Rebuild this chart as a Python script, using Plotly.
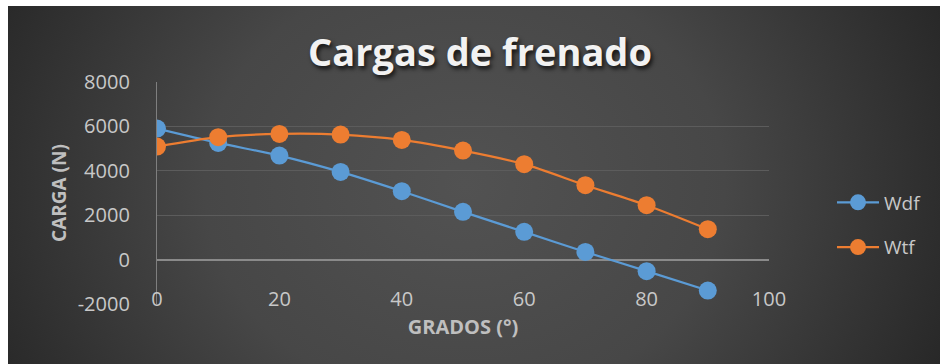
import base64
import plotly.graph_objects as go

# Braking loads vs. angle
grados = [0, 10, 20, 30, 40, 50, 60, 70, 80, 90]
wdf = [5900, 5255, 4685, 3950, 3080, 2150, 1250, 345, -520, -1395]
wtf = [5090, 5513, 5662, 5630, 5390, 4910, 4300, 3350, 2450, 1370]

x_ticks = [0, 20, 40, 60, 80, 100]
y_ticks = [-2000, 0, 2000, 4000, 6000, 8000]
y_tick_labels = ["-2000", "0", "2000", "4000", "6000", "8000"]

BLUE = "#5B9BD5"
ORANGE = "#ED7D31"
FONT = "Open Sans"

W, H = 940, 364
L, R, T, B = 157, 171, 82, 60
pw, ph = W - L - R, H - T - B

# dark radial-gradient backdrop for the chart area
svg = f"""<svg xmlns='http://www.w3.org/2000/svg' width='932' height='358' viewBox='0 0 932 358' preserveAspectRatio='none'>
<defs><radialGradient id='g' cx='0.49' cy='0.5' r='0.62' gradientTransform='translate(0.49 0.5) scale(1 2.2) translate(-0.49 -0.5)'>
<stop offset='0' stop-color='#525252'/><stop offset='0.45' stop-color='#474747'/><stop offset='1' stop-color='#212121'/></radialGradient></defs>
<rect width='932' height='358' fill='url(#g)'/></svg>"""
bg_src = "data:image/svg+xml;base64," + base64.b64encode(svg.encode()).decode()

fig = go.Figure()
for name, vals, col, grp in [("Wdf", wdf, BLUE, "a"), ("Wtf", wtf, ORANGE, "b")]:
    fig.add_trace(go.Scatter(
        x=grados, y=vals, name=name, mode="lines+markers",
        line=dict(color=col, width=2.2, shape="spline", smoothing=0.8),
        marker=dict(color=col, size=18, line=dict(width=0)),
        legendgroup=grp,
    ))

fig.update_layout(
    width=W, height=H,
    margin=dict(l=L, r=R, t=T, b=B),
    paper_bgcolor="white",
    plot_bgcolor="rgba(0,0,0,0)",
    font=dict(family=FONT, color="#c8c8c8"),
    images=[dict(
        source=bg_src, xref="paper", yref="paper",
        x=(8 - L) / pw, y=(H - B - 6) / ph,
        sizex=(W - 8) / pw, sizey=(H - 6) / ph,
        xanchor="left", yanchor="top", sizing="stretch", layer="below",
    )],
    title=dict(
        text="Cargas de frenado",
        x=480 / W, xanchor="center", xref="container",
        y=1 - 53 / H, yanchor="middle", yref="container",
        font=dict(family=FONT, size=38, weight=700, color="#f2f2f2",
                  shadow="2px 3px 4px rgba(0,0,0,0.75)"),
    ),
    xaxis=dict(
        range=[0, 100], tickvals=x_ticks, showgrid=False, zeroline=False,
        showline=False, anchor="free", position=0.2,
        ticks="outside", ticklen=21, tickcolor="rgba(0,0,0,0)",
        tickfont=dict(size=20, color="#c8c8c8"),
        title=dict(text="<b>GRADOS (°)</b>", standoff=9,
                   font=dict(size=20, color="#bfbfbf")),
    ),
    yaxis=dict(
        range=[-2000, 8000], tickvals=y_ticks, ticktext=y_tick_labels,
        showgrid=True, gridcolor="#5c5c5c", gridwidth=1.3,
        zeroline=True, zerolinecolor="#8a8a8a", zerolinewidth=1.5,
        showline=True, linecolor="#7f7f7f", linewidth=1.3,
        ticks="outside", ticklen=22, tickcolor="rgba(0,0,0,0)",
        tickfont=dict(size=20, color="#c8c8c8"),
        title=dict(text="<b>CARGA (N)</b>", standoff=6,
                   font=dict(size=19, color="#bfbfbf")),
    ),
    legend=dict(
        x=(832 - L) / pw, xanchor="left",
        y=(H - B - 225) / ph, yanchor="middle",
        bgcolor="rgba(0,0,0,0)", font=dict(size=19, color="#c8c8c8"),
        tracegroupgap=17, traceorder="grouped", itemwidth=42,
    ),
    showlegend=True,
)

fig.write_html("out.html")
